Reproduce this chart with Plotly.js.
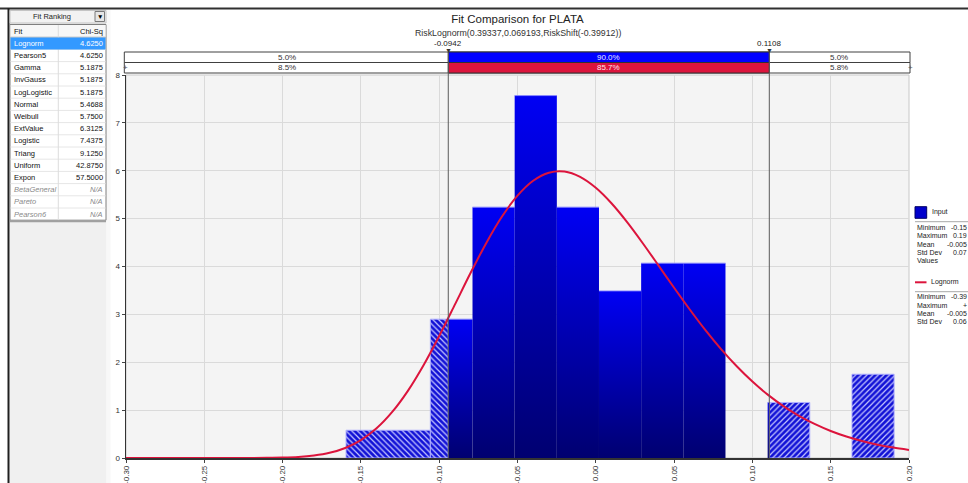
<!DOCTYPE html>
<html>
<head>
<meta charset="utf-8">
<script src="https://cdn.plot.ly/plotly-3.0.1.min.js"></script>
<style>
  html, body { margin: 0; padding: 0; background: #ffffff; overflow: hidden; }
  #chart { width: 968px; height: 483px; }
</style>
</head>
<body>
<div id="chart"></div>
<script>
// ---- Input histogram (density per bin) ----
const binEdges = [-0.1595, -0.13258, -0.10565, -0.07873, -0.05181, -0.02488, 0.00204,
                  0.02896, 0.05588, 0.08281, 0.10973, 0.13665, 0.16358, 0.1905];
const binDensity = [0.58, 0.58, 2.90, 5.24, 7.57, 5.24, 3.49, 4.07, 4.07, 0, 1.16, 0, 1.75];

// ---- Fitted Lognorm density ----
const curveX = [-0.30, -0.26, -0.23, -0.21, -0.20, -0.19, -0.18, -0.17, -0.16, -0.15, -0.14, -0.13,
                -0.12, -0.11, -0.10, -0.09, -0.08, -0.07, -0.06, -0.05, -0.04, -0.03, -0.02, -0.01,
                 0.00,  0.01,  0.02,  0.03,  0.04,  0.05,  0.06,  0.07,  0.08,  0.09,  0.10,  0.11,
                 0.12,  0.13,  0.14,  0.15,  0.16,  0.17,  0.18,  0.19,  0.20];
const curveY = [0, 0, 0.0002, 0.003, 0.008, 0.021, 0.051, 0.108, 0.209, 0.374, 0.620, 0.962,
                1.403, 1.938, 2.549, 3.203, 3.863, 4.488, 5.038, 5.480, 5.790, 5.958, 5.982, 5.871,
                5.643, 5.320, 4.926, 4.486, 4.023, 3.556, 3.102, 2.671, 2.275, 1.916, 1.597, 1.319,
                1.080, 0.877, 0.707, 0.565, 0.449, 0.355, 0.278, 0.217, 0.169];

// ---- Delimiters and the probabilities between them ----
const leftDelim = -0.0942;
const rightDelim = 0.1108;
const delimLabels = ['-0.0942', '0.1108'];
const inputPct = ['5.0%', '90.0%', '5.0%'];
const fitPct = ['8.5%', '85.7%', '5.8%'];

// ---- Axis ticks ----
const xTickVals = [-0.30, -0.25, -0.20, -0.15, -0.10, -0.05, 0.00, 0.05, 0.10, 0.15, 0.20];
const xTickText = ['-0.30', '-0.25', '-0.20', '-0.15', '-0.10', '-0.05', '0.00', '0.05', '0.10', '0.15', '0.20'];
const yTickVals = [0, 1, 2, 3, 4, 5, 6, 7, 8];

// ---- Fit ranking table ----
const fitNames = ['Lognorm', 'Pearson5', 'Gamma', 'InvGauss', 'LogLogistic', 'Normal', 'Weibull',
                  'ExtValue', 'Logistic', 'Triang', 'Uniform', 'Expon', 'BetaGeneral', 'Pareto', 'Pearson6'];
const chiSq = [4.6250, 4.6250, 5.1875, 5.1875, 5.1875, 5.4688, 5.7500, 6.3125, 7.4375, 9.1250,
               42.8750, 57.5000, null, null, null];

// ---- Legend statistics ----
const inputStatNames = ['Minimum', 'Maximum', 'Mean', 'Std Dev', 'Values'];
const inputStatText = ['-0.15', '0.19', '-0.005', '0.07', ''];
const fitStatNames = ['Minimum', 'Maximum', 'Mean', 'Std Dev'];
const fitStatText = ['-0.39', '+', '-0.005', '0.06'];

// ---- Page geometry (pixels) ----
const W = 968, H = 483;
const M = { l: 126, r: 59, t: 75, b: 25 };
const PW = W - M.l - M.r, PH = H - M.t - M.b;
const px = v => (v - M.l) / PW;          // page x pixel -> paper
const py = v => (M.t + PH - v) / PH;     // page y pixel -> paper
const FONT = 'Liberation Sans, Arial, sans-serif';

// ---- Split histogram bins into hatched tails and the solid middle ----
const pieces = [];
for (let i = 0; i < binDensity.length; i++) {
  const a = binEdges[i], b = binEdges[i + 1], h = binDensity[i];
  if (h <= 0) continue;
  const cuts = [a, Math.min(Math.max(leftDelim, a), b), Math.min(Math.max(rightDelim, a), b), b];
  const kinds = ['left', 'solid', 'right'];
  for (let k = 0; k < 3; k++) {
    if (cuts[k + 1] - cuts[k] > 1e-9) {
      const prev = pieces[pieces.length - 1];
      if (kinds[k] !== 'solid' && prev && prev.kind === kinds[k] && prev.h === h && Math.abs(prev.b - cuts[k]) < 1e-9) {
        prev.b = cuts[k + 1];
      } else {
        pieces.push({ a: cuts[k], b: cuts[k + 1], h: h, kind: kinds[k] });
      }
    }
  }
}

const traces = [];

// solid bars, shaded from dark at the base to bright blue at the top
pieces.filter(p => p.kind === 'solid').forEach(p => {
  traces.push({
    type: 'scatter', mode: 'none',
    x: [p.a, p.a, p.b, p.b, p.a], y: [0, p.h, p.h, 0, 0],
    fill: 'toself', fillcolor: '#0000b8',
    fillgradient: { type: 'vertical', colorscale: [[0, '#000070'], [1, '#0000f4']] },
    hoverinfo: 'skip', showlegend: false
  });
});
// light top edges of the solid bars
const topX = [], topY = [];
pieces.filter(p => p.kind === 'solid').forEach(p => { topX.push(p.a, p.b, null); topY.push(p.h, p.h, null); });
traces.push({ type: 'scatter', mode: 'lines', x: topX, y: topY,
  line: { color: 'rgba(140,140,255,0.9)', width: 1 }, hoverinfo: 'skip', showlegend: false });

// hatched tail bars
[['left', '\\'], ['right', '/']].forEach(([kind, shape]) => {
  const ps = pieces.filter(p => p.kind === kind);
  traces.push({
    type: 'bar',
    x: ps.map(p => (p.a + p.b) / 2), y: ps.map(p => p.h), width: ps.map(p => p.b - p.a),
    marker: {
      color: '#1414d8',
      line: { color: 'rgba(175,175,255,0.95)', width: 1 },
      pattern: { shape: shape, fillmode: 'replace', bgcolor: '#1212d6', fgcolor: '#c8c8ff', size: 4, solidity: 0.3 }
    },
    hoverinfo: 'skip', showlegend: false
  });
});

// fitted curve
traces.push({
  type: 'scatter', mode: 'lines', x: curveX, y: curveY,
  line: { color: '#dc143c', width: 2, shape: 'spline', smoothing: 0.8 },
  hoverinfo: 'skip', showlegend: false
});

// ---- Shapes ----
const shapes = [];
const rectPx = (x0, y0, x1, y1, fill, line, lw) => shapes.push({
  type: 'rect', xref: 'paper', yref: 'paper', x0: px(x0), x1: px(x1), y0: py(y0), y1: py(y1),
  fillcolor: fill, line: { color: line || 'rgba(0,0,0,0)', width: line ? (lw || 1) : 0 }, layer: 'above'
});
const linePx = (x0, y0, x1, y1, color, width) => shapes.push({
  type: 'line', xref: 'paper', yref: 'paper', x0: px(x0), x1: px(x1), y0: py(y0), y1: py(y1),
  line: { color: color, width: width || 1 }, layer: 'above'
});

// left panel frame
rectPx(9.5, 9.5, 106.5, 483, '#f0f0f0');
rectPx(106.5, 9.5, 110.5, 483, '#f8f8f8');
linePx(0, 8.5, 968, 8.5, '#303030', 2);
linePx(8.5, 8, 8.5, 483, '#202020', 2);

// dropdown header
rectPx(10, 10.5, 106, 23, '#f2f2f2', '#c4c4c4');
rectPx(95, 11.5, 104.5, 21.5, '#e6e6e6', '#7a7a7a');

// ranking table
const rowH = 12.2, rowTop = 37.2;
const tableBottom = rowTop + rowH * fitNames.length;
rectPx(10, 24.5, 106, tableBottom, '#ffffff', '#7f7f7f');
rectPx(10.5, 25, 105.5, rowTop, '#f7f7f7');
for (let i = 1; i < fitNames.length; i++) linePx(10.5, rowTop + i * rowH, 105.5, rowTop + i * rowH, '#e6e6e6', 1);
linePx(10.5, rowTop, 105.5, rowTop, '#b0b0b0', 1);
linePx(58.3, 25, 58.3, tableBottom, '#dcdcdc', 1);
rectPx(10.5, rowTop + 0.4, 105.5, rowTop + rowH, '#3399ff');
linePx(10, tableBottom + 1, 106, tableBottom + 1, '#a0a0a0', 2);

// plot frame
shapes.push({ type: 'rect', xref: 'paper', yref: 'paper', x0: 0, x1: 1, y0: 0, y1: 1,
  line: { color: '#c8c8c8', width: 1 }, layer: 'below' });

// delimiter bars above the plot
const barTop = 52, barMid = 62.5, barBot = 73;
rectPx(124.3, barTop, 910, barMid, '#ffffff', '#404040');
rectPx(124.3, barMid, 910, barBot, '#ffffff', '#404040');
shapes.push({ type: 'rect', xref: 'x', yref: 'paper', x0: leftDelim, x1: rightDelim, y0: py(barMid), y1: py(barTop),
  fillcolor: '#0000ff', line: { color: '#303030', width: 1 }, layer: 'above' });
shapes.push({ type: 'rect', xref: 'x', yref: 'paper', x0: leftDelim, x1: rightDelim, y0: py(barBot), y1: py(barMid),
  fillcolor: '#dc143c', line: { color: '#303030', width: 1 }, layer: 'above' });
[leftDelim, rightDelim].forEach(d => shapes.push({
  type: 'line', xref: 'x', yref: 'paper', x0: d, x1: d, y0: 0, y1: py(barTop),
  line: { color: '#5a5a5a', width: 1 }, layer: 'above'
}));

// legend panel
rectPx(915, 206.7, 926.7, 218.3, '#0000cc', '#000066');
linePx(915, 221.7, 968, 221.7, '#a8a8a8', 1);
linePx(915, 282.3, 926.5, 282.3, '#dc143c', 2);
linePx(915, 291.7, 968, 291.7, '#a8a8a8', 1);

// ---- Annotations ----
const annotations = [];
const textPx = (x, y, text, opts) => annotations.push(Object.assign({
  xref: 'paper', yref: 'paper', x: px(x), y: py(y), text: text, showarrow: false,
  xanchor: 'left', yanchor: 'middle', font: { family: FONT, size: 7.5, color: '#1a1a1a' }, borderpad: 0
}, opts || {}));

// subtitle and delimiter labels
textPx((M.l + W - M.r) / 2, 33, 'RiskLognorm(0.39337,0.069193,RiskShift(-0.39912))',
  { xanchor: 'center', font: { family: FONT, size: 8.8, color: '#333' } });
[leftDelim, rightDelim].forEach((d, i) => {
  annotations.push({ xref: 'x', yref: 'paper', x: d, y: py(43), text: delimLabels[i], showarrow: false,
    xanchor: 'center', yanchor: 'middle', font: { family: FONT, size: 8, color: '#222' } });
  annotations.push({ xref: 'x', yref: 'paper', x: d, y: py(50), text: '▼', showarrow: false,
    xanchor: 'center', yanchor: 'middle', font: { family: FONT, size: 7, color: '#333' } });
});
const xr = [xTickVals[0], xTickVals[xTickVals.length - 1]];
const segCenters = [(xr[0] + leftDelim) / 2, (leftDelim + rightDelim) / 2, (rightDelim + xr[1]) / 2];
const rowColors = [['#333', '#e8e8ff', '#333'], ['#333', '#ffe6ea', '#333']];
[inputPct, fitPct].forEach((row, r) => row.forEach((t, k) => annotations.push({
  xref: 'x', yref: 'paper', x: segCenters[k], y: py(r === 0 ? (barTop + barMid) / 2 : (barMid + barBot) / 2),
  text: t, showarrow: false, xanchor: 'center', yanchor: 'middle',
  font: { family: FONT, size: 8, color: rowColors[r][k] }
})));
textPx(125, 67.8, '+', { xanchor: 'center', font: { family: FONT, size: 8, color: '#555' } });
textPx(910, 67.8, '+', { xanchor: 'center', font: { family: FONT, size: 8, color: '#555' } });

// ranking table text
textPx(52, 16.5, 'Fit Ranking', { xanchor: 'center', font: { family: FONT, size: 7.5, color: '#222' } });
textPx(99.7, 16.5, '▼', { xanchor: 'center', font: { family: FONT, size: 6.5, color: '#000' } });
textPx(13, 31.2, 'Fit', { font: { family: FONT, size: 7.5, color: '#111' } });
textPx(104, 31.2, 'Chi-Sq', { xanchor: 'right', font: { family: FONT, size: 7.5, color: '#111' } });
fitNames.forEach((name, i) => {
  const y = rowTop + rowH * (i + 0.5);
  const na = chiSq[i] === null;
  const col = i === 0 ? '#ffffff' : (na ? '#8a8a8a' : '#111111');
  const val = na ? 'N/A' : chiSq[i].toFixed(4);
  textPx(13, y, na ? '<i>' + name + '</i>' : name, { font: { family: FONT, size: 7.5, color: col } });
  textPx(104, y, na ? '<i>' + val + '</i>' : val, { xanchor: 'right', font: { family: FONT, size: 7.5, color: col } });
});

// legend text
textPx(931, 212.5, 'Input', { font: { family: FONT, size: 7, color: '#222' } });
inputStatNames.forEach((n, i) => {
  const y = 227.3 + i * 8.35;
  textPx(915.7, y, n, { font: { family: FONT, size: 7, color: '#222' } });
  if (inputStatText[i]) textPx(968, y, inputStatText[i], { xanchor: 'right', font: { family: FONT, size: 7, color: '#222' } });
});
textPx(930, 282, 'Lognorm', { font: { family: FONT, size: 7, color: '#222' } });
fitStatNames.forEach((n, i) => {
  const y = 296.7 + i * 8.35;
  textPx(915.7, y, n, { font: { family: FONT, size: 7, color: '#222' } });
  textPx(968, y, fitStatText[i], { xanchor: 'right', font: { family: FONT, size: 7, color: '#222' } });
});

const layout = {
  width: W, height: H,
  margin: M,
  paper_bgcolor: '#ffffff',
  plot_bgcolor: '#f4f4f4',
  font: { family: FONT, size: 8, color: '#333' },
  title: {
    text: 'Fit Comparison for PLATA',
    font: { family: FONT, size: 11.5, color: '#222' },
    xref: 'paper', x: 0.5, xanchor: 'center',
    yref: 'container', y: 1 - 19 / H, yanchor: 'middle'
  },
  barmode: 'overlay',
  bargap: 0,
  showlegend: false,
  xaxis: {
    range: xr, tickvals: xTickVals, ticktext: xTickText, tickangle: -90,
    ticks: 'outside', ticklen: 3, tickcolor: '#444',
    showline: true, linecolor: '#333', linewidth: 1.5,
    showgrid: true, gridcolor: '#dadada', gridwidth: 1, zeroline: false,
    tickfont: { family: FONT, size: 8, color: '#333' }, fixedrange: true
  },
  yaxis: {
    range: [0, 8], tickvals: yTickVals,
    ticks: 'outside', ticklen: 3, tickcolor: '#444',
    showline: true, linecolor: '#333', linewidth: 1.5,
    showgrid: true, gridcolor: '#dadada', gridwidth: 1, zeroline: false,
    tickfont: { family: FONT, size: 8, color: '#333' }, fixedrange: true
  },
  shapes: shapes,
  annotations: annotations
};

Plotly.newPlot('chart', traces, layout, { staticPlot: true, displayModeBar: false });
</script>
</body>
</html>
